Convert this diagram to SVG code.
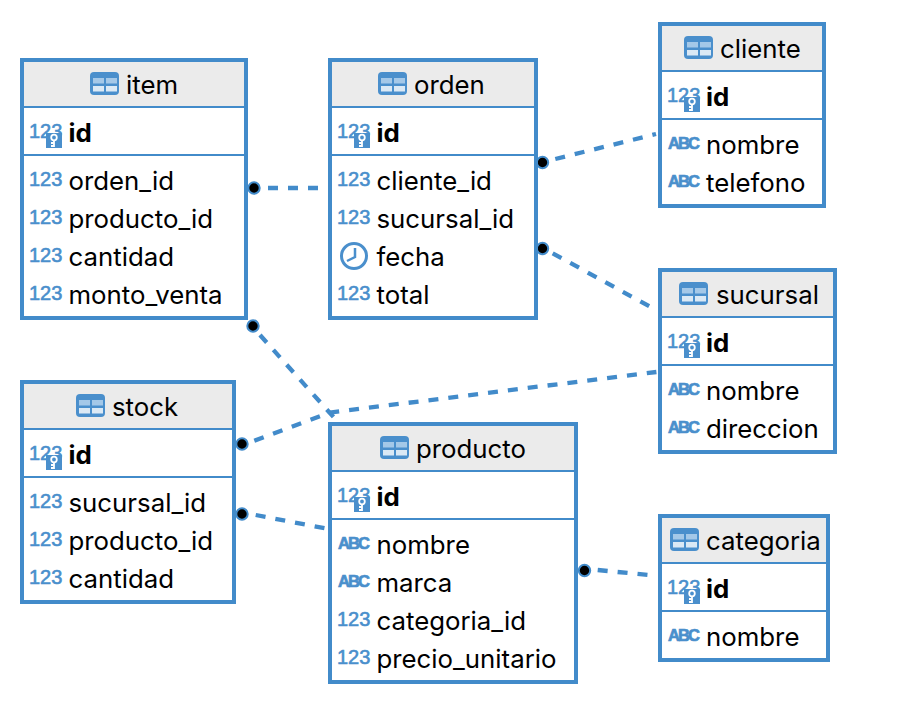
<svg xmlns="http://www.w3.org/2000/svg" width="908" height="718" viewBox="0 0 908 718">
<style>
text{font-family:Inter,"Liberation Sans",Arial,sans-serif;font-size:25.800px;fill:#000}
.b{font-weight:700}
.box{fill:#fff;stroke:#428bca;stroke-width:4}
.hd{fill:#ebebeb}
.sep{stroke:#428bca;stroke-width:2;fill:none}
.n{font-family:"Liberation Sans",Arial,sans-serif;font-size:20px;fill:#4a8fcc;stroke:#4a8fcc;stroke-width:.6px}
.a{font-family:"Liberation Sans",Arial,sans-serif;font-size:16.500px;fill:#4a8fcc;font-weight:700;stroke:#4a8fcc;stroke-width:.7px}
.c{fill:none;stroke:#428bca;stroke-width:4.300;stroke-dasharray:10 10}
.dot{fill:#000;stroke:#428bca;stroke-width:2}
</style>
<defs>
<g id="tb"><rect width="29" height="23" rx="4" fill="#4a8fcc"/><rect x="3" y="6" width="11" height="5.500" fill="#a4c8e8"/><rect x="16" y="6" width="11" height="5.500" fill="#a4c8e8"/><rect x="3" y="14" width="11" height="5.500" fill="#dbe9f5"/><rect x="16" y="14" width="11" height="5.500" fill="#dbe9f5"/></g>
<g id="key"><text class="n" x="0" y="0">123</text><rect x="17" y="-5" width="16" height="15" fill="#4a8fcc"/><circle cx="25" cy="-0.500" r="2.800" fill="none" stroke="#fff" stroke-width="1.800"/><path d="M25 2.500V9M25 5H22M25 8H22" stroke="#fff" stroke-width="1.800" fill="none"/></g>
<g id="clock"><circle cx="0" cy="0" r="12.500" fill="none" stroke="#4a8fcc" stroke-width="3"/><path d="M1 -8V1L-7 5" fill="none" stroke="#4a8fcc" stroke-width="2.500"/></g>
</defs>
<g id="connectors">
<path class="c" d="M268 188H320"/>
<path class="c" d="M260 335L333.500 417"/>
<path class="c" d="M254.300 440.700L330 412.500L656.400 372"/>
<path class="c" d="M255.700 515L325 528.300"/>
<path class="c" d="M555.300 159L656 134"/>
<path class="c" d="M552.700 253.300L650 306.700"/>
<path class="c" d="M597.700 570L647.700 575"/>
<circle class="dot" cx="254" cy="188" r="5.700"/>
<circle class="dot" cx="253" cy="326" r="5.700"/>
<circle class="dot" cx="242" cy="444" r="5.700"/>
<circle class="dot" cx="242" cy="514" r="5.700"/>
<circle class="dot" cx="542.500" cy="162.500" r="5.700"/>
<circle class="dot" cx="542.500" cy="248.500" r="5.700"/>
<circle class="dot" cx="584.500" cy="570.500" r="5.700"/>
</g>
<g id="item">
<rect class="box" x="22" y="60" width="224" height="258"/><rect class="hd" x="24" y="62" width="220" height="45"/>
<path class="sep" d="M24 107H244M24 155H244"/>
<use href="#tb" x="90" y="72"/><text x="126" y="94">item</text>
<use href="#key" x="29" y="138"/><text class="b" x="68.500" y="142">id</text>
<text class="n" x="29" y="186">123</text><text x="68.500" y="190">orden_id</text>
<text class="n" x="29" y="224">123</text><text x="68.500" y="228">producto_id</text>
<text class="n" x="29" y="262">123</text><text x="68.500" y="266">cantidad</text>
<text class="n" x="29" y="300">123</text><text x="68.500" y="304">monto_venta</text>
</g>
<g id="orden">
<rect class="box" x="330" y="60" width="206" height="258"/><rect class="hd" x="332" y="62" width="202" height="45"/>
<path class="sep" d="M332 107H534M332 155H534"/>
<use href="#tb" x="378" y="72"/><text x="414" y="94">orden</text>
<use href="#key" x="337" y="138"/><text class="b" x="376.500" y="142">id</text>
<text class="n" x="337" y="186">123</text><text x="376.500" y="190">cliente_id</text>
<text class="n" x="337" y="224">123</text><text x="376.500" y="228">sucursal_id</text>
<use href="#clock" x="354" y="256"/><text x="376.500" y="266">fecha</text>
<text class="n" x="337" y="300">123</text><text x="376.500" y="304">total</text>
</g>
<g id="cliente">
<rect class="box" x="660" y="24" width="164" height="182"/><rect class="hd" x="662" y="26" width="160" height="45"/>
<path class="sep" d="M662 71H822M662 119H822"/>
<use href="#tb" x="684" y="36"/><text x="720" y="58">cliente</text>
<use href="#key" x="667" y="102"/><text class="b" x="706" y="106">id</text>
<text class="a" x="668" y="149" textLength="32">ABC</text><text x="706" y="154">nombre</text>
<text class="a" x="668" y="187" textLength="32">ABC</text><text x="706" y="192">telefono</text>
</g>
<g id="sucursal">
<rect class="box" x="660" y="270" width="175" height="182"/><rect class="hd" x="662" y="272" width="171" height="45"/>
<path class="sep" d="M662 317H833M662 365H833"/>
<use href="#tb" x="679" y="282"/><text x="716" y="304">sucursal</text>
<use href="#key" x="667" y="348"/><text class="b" x="706" y="352">id</text>
<text class="a" x="668" y="395" textLength="32">ABC</text><text x="706" y="400">nombre</text>
<text class="a" x="668" y="433" textLength="32">ABC</text><text x="706" y="438">direccion</text>
</g>
<g id="stock">
<rect class="box" x="22" y="382" width="212" height="220"/><rect class="hd" x="24" y="384" width="208" height="45"/>
<path class="sep" d="M24 429H232M24 477H232"/>
<use href="#tb" x="76" y="394"/><text x="112" y="416">stock</text>
<use href="#key" x="29" y="460"/><text class="b" x="68.500" y="464">id</text>
<text class="n" x="29" y="508">123</text><text x="68.500" y="512">sucursal_id</text>
<text class="n" x="29" y="546">123</text><text x="68.500" y="550">producto_id</text>
<text class="n" x="29" y="584">123</text><text x="68.500" y="588">cantidad</text>
</g>
<g id="producto">
<rect class="box" x="330" y="424" width="246" height="258"/><rect class="hd" x="332" y="426" width="242" height="45"/>
<path class="sep" d="M332 471H574M332 519H574"/>
<use href="#tb" x="380" y="436"/><text x="416" y="458">producto</text>
<use href="#key" x="337" y="502"/><text class="b" x="376.500" y="506">id</text>
<text class="a" x="338" y="549" textLength="32">ABC</text><text x="376.500" y="554">nombre</text>
<text class="a" x="338" y="587" textLength="32">ABC</text><text x="376.500" y="592">marca</text>
<text class="n" x="337" y="626">123</text><text x="376.500" y="630">categoria_id</text>
<text class="n" x="337" y="664">123</text><text x="376.500" y="668">precio_unitario</text>
</g>
<g id="categoria">
<rect class="box" x="660" y="516" width="168" height="144"/><rect class="hd" x="662" y="518" width="164" height="45"/>
<path class="sep" d="M662 563H826M662 611H826"/>
<use href="#tb" x="670" y="528"/><text x="706" y="550">categoria</text>
<use href="#key" x="667" y="594"/><text class="b" x="706" y="598">id</text>
<text class="a" x="668" y="641" textLength="32">ABC</text><text x="706" y="646">nombre</text>
</g>
</svg>
